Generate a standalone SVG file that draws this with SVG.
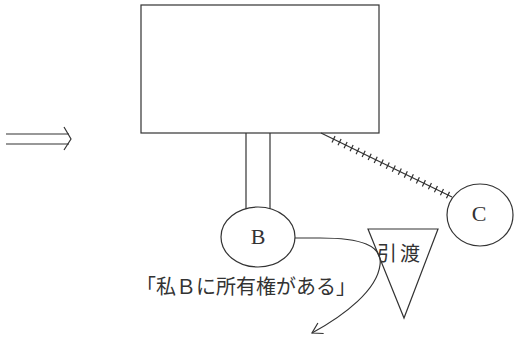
<svg xmlns="http://www.w3.org/2000/svg" width="515" height="339" viewBox="0 0 515 339">
<style>
.ln{fill:none;stroke:#333;stroke-width:1.2}
.lat{font-family:"Liberation Serif",serif;font-size:22px;fill:#333;text-anchor:middle}
.jp{font-family:"Liberation Serif","Noto Sans CJK JP",sans-serif;font-size:20px;fill:#333}
</style>
<defs>
<marker id="open" markerWidth="14" markerHeight="14" refX="12" refY="7" orient="auto" markerUnits="userSpaceOnUse">
<path d="M2,1 L12,7 L2,13" fill="none" stroke="#333" stroke-width="1.2"/>
</marker>
</defs>
<rect width="515" height="339" fill="#fff"/>
<g id="implies">
<line class="ln" x1="6" y1="134" x2="69" y2="134"/>
<line class="ln" x1="6" y1="144" x2="69" y2="144"/>
<path class="ln" d="M64,127 L71,139 L64,150"/>
</g>
<g id="box">
<rect class="ln" x="141" y="5" width="238" height="128"/>
</g>
<g id="nodeB">
<ellipse class="ln" cx="258" cy="237" rx="37" ry="30"/>
<text class="lat" x="258" y="244">B</text>
</g>
<g id="nodeC">
<ellipse class="ln" cx="480" cy="215" rx="33" ry="31"/>
<text class="lat" x="479" y="221">C</text>
</g>
<g id="transfer">
<path class="ln" d="M368,229 L438,229 L404,318 Z"/>
<text class="jp" x="377" y="261" letter-spacing="3">引渡</text>
</g>
<g id="claim">
<text class="jp" x="136" y="294">「私Ｂに所有権がある」</text>
</g>
<g id="connectors">
<line class="ln" x1="246" y1="133" x2="246" y2="209"/>
<line class="ln" x1="270" y1="133" x2="270" y2="209"/>
<line class="ln" x1="321" y1="133" x2="452" y2="197"/>
<line x1="333" y1="139" x2="450" y2="196" stroke="#333" stroke-width="7" stroke-dasharray="1.2 5.5" fill="none"/>
<path class="ln" d="M295,238 L320,238 C360,238 383,245 380,265 C377,290 345,315 312,333" marker-end="url(#open)"/>
</g>
</svg>
